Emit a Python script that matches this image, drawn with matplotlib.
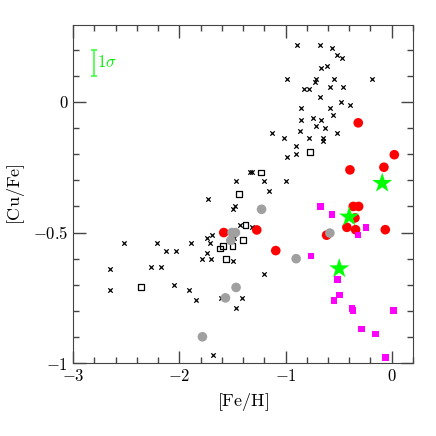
import matplotlib
matplotlib.use('Agg')
import matplotlib.pyplot as plt
from matplotlib.ticker import MultipleLocator, FuncFormatter

plt.rcParams['mathtext.fontset'] = 'cm'
plt.rcParams['font.family'] = 'serif'
plt.rcParams['font.serif'] = ['DejaVu Serif']

# halo / thick disk stars (crosses)
cross_x = [-0.89, -0.674, -0.56, -0.513, -0.472, -0.667, -0.61, -0.99, -0.714, -0.724,
           -0.54, -0.186, -0.824, -0.78, -0.58, -0.46, -0.674, -0.481, -0.393, -0.853,
           -0.58, -0.55, -0.853, -0.742, -0.664, -0.711, -0.629, -0.862, -0.513, -1.129,
           -1.013, -0.78, -0.65, -0.65, -0.903, -0.99, -0.9, -1.32, -1.2, -1.0,
           -1.158, -1.33, -1.469, -1.73, -1.494, -1.472, -1.431, -1.315, -2.519, -2.211,
           -1.89, -1.736, -1.692, -1.711, -2.129, -2.032, -1.74, -1.79, -1.698, -1.494,
           -2.658, -2.271, -2.17, -2.658, -2.051, -1.909, -1.843, -1.604, -1.412, -1.462,
           -1.679, -1.202, -1.49]
cross_y = [0.218, 0.218, 0.208, 0.179, 0.169, 0.129, 0.139, 0.088, 0.088, 0.077,
           0.088, 0.088, 0.049, 0.049, 0.059, 0.059, 0.019, 0.0, -0.011, -0.022,
           -0.022, -0.051, -0.07, -0.061, -0.07, -0.091, -0.101, -0.11, -0.12, -0.12,
           -0.139, -0.139, -0.139, -0.149, -0.17, -0.211, -0.2, -0.27, -0.301, -0.301,
           -0.341, -0.27, -0.301, -0.37, -0.408, -0.4, -0.47, -0.48, -0.54, -0.54,
           -0.54, -0.521, -0.511, -0.54, -0.571, -0.571, -0.58, -0.6, -0.6, -0.61,
           -0.64, -0.631, -0.631, -0.719, -0.7, -0.719, -0.76, -0.75, -0.75, -0.789,
           -0.969, -0.66, -0.52]

# open squares
sq_x = [-0.771, -1.233, -1.44, -1.377, -1.40, -1.589, -1.62, -1.50, -1.563, -2.362]
sq_y = [-0.19, -0.27, -0.351, -0.47, -0.53, -0.55, -0.561, -0.552, -0.60, -0.71]

# red filled circles
red_x = [-0.315, 0.025, -0.393, -0.073, -0.362, -0.311, -0.346, -0.422, -0.34, -0.06,
         -0.613, -1.271, -1.582, -1.092]
red_y = [-0.08, -0.202, -0.26, -0.25, -0.40, -0.40, -0.444, -0.48, -0.489, -0.489,
         -0.51, -0.49, -0.50, -0.569]

# grey filled circles
grey_x = [-1.504, -1.472, -1.516, -1.226, -0.9, -0.582, -1.466, -1.566, -1.783]
grey_y = [-0.50, -0.50, -0.53, -0.411, -0.60, -0.502, -0.71, -0.75, -0.899]

# magenta filled squares
mag_x = [-0.67, -0.56, -0.24, -0.318, -0.758, -0.51, -0.49, -0.544, -0.375, -0.362,
         0.019, -0.283, -0.151, -0.06]
mag_y = [-0.40, -0.43, -0.48, -0.51, -0.59, -0.68, -0.739, -0.76, -0.79, -0.799,
         -0.799, -0.87, -0.889, -0.979]

# green stars
star_x = [-0.089, -0.40, -0.494]
star_y = [-0.311, -0.44, -0.638]

fig = plt.figure(figsize=(4.36, 4.36), dpi=100)
ax = fig.add_axes([0.168, 0.167, 0.779, 0.776])

ax.scatter(cross_x, cross_y, marker='x', s=10, c='black', linewidths=0.9, zorder=2)
ax.scatter(sq_x, sq_y, marker='s', s=18, facecolors='none', edgecolors='black',
           linewidths=0.9, zorder=3)
ax.scatter(red_x, red_y, marker='o', s=48, c='#ff0000', edgecolors='none', zorder=4)
ax.scatter(grey_x, grey_y, marker='o', s=48, c='#a0a0a0', edgecolors='none', zorder=5)
ax.scatter(mag_x, mag_y, marker='s', s=22, c='#ff00ff', edgecolors='none', zorder=6)
ax.scatter(star_x, star_y, marker='*', s=230, c='#00ff00', edgecolors='none', zorder=7)

# 1 sigma error bar
ax.errorbar([-2.8], [0.15], yerr=[0.05], color='#40ff40', capsize=2.2, elinewidth=1.2,
            capthick=1.2)
ax.text(-2.775, 0.15, r'$1\sigma$', color='#00ee00', fontsize=12, va='center', ha='left')

ax.set_xlim(-3.0, 0.2)
ax.set_ylim(-1.0, 0.295)

ax.xaxis.set_major_locator(MultipleLocator(1))
ax.xaxis.set_minor_locator(MultipleLocator(0.2))
ax.yaxis.set_major_locator(MultipleLocator(0.5))
ax.yaxis.set_minor_locator(MultipleLocator(0.1))

fmt = FuncFormatter(lambda v, p: r'$%g$' % round(v, 2))
ax.xaxis.set_major_formatter(fmt)
ax.yaxis.set_major_formatter(fmt)

ax.tick_params(which='both', direction='in', top=True, right=True, labelsize=12,
               color='#444444')
ax.tick_params(which='major', length=9, width=1)
ax.tick_params(which='minor', length=4.5, width=1)
for s in ax.spines.values():
    s.set_color('#444444')

ax.set_xlabel(r'$[\mathrm{Fe/H}]$', fontsize=13)
ax.set_ylabel(r'$[\mathrm{Cu/Fe}]$', fontsize=13)

fig.savefig('out.png', dpi=100)
